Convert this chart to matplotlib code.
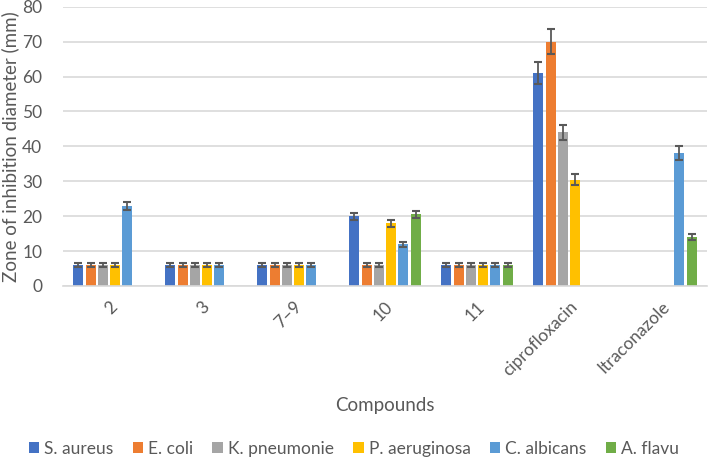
import numpy as np
import matplotlib
matplotlib.use('Agg')
import matplotlib.pyplot as plt

compounds = ['2', '3', '7–9', '10', '11', 'ciprofloxacin', 'Itraconazole']
species = ['S. aureus', 'E. coli', 'K. pneumonie', 'P. aeruginosa', 'C. albicans', 'A. flavu']
colors = ['#4472C4', '#ED7D31', '#A5A5A5', '#FFC000', '#5B9BD5', '#70AD47']
nan = np.nan

# zone of inhibition (mm), one list per species, ordered like compounds
s_aureus = [6, 6, 6, 20, 6, 61, nan]
e_coli = [6, 6, 6, 6, 6, 70, nan]
k_pneumonie = [6, 6, 6, 6, 6, 44, nan]
p_aeruginosa = [6, 6, 6, 18, 6, 30.5, nan]
c_albicans = [23, 6, 6, 12, 6, nan, 38]
a_flavu = [nan, nan, nan, 20.5, 6, nan, 14]

err_s_aureus = [0.5, 0.5, 0.5, 1.0, 0.5, 3.1, nan]
err_e_coli = [0.5, 0.5, 0.5, 0.5, 0.5, 3.5, nan]
err_k_pneumonie = [0.5, 0.5, 0.5, 0.5, 0.5, 2.2, nan]
err_p_aeruginosa = [0.5, 0.5, 0.5, 1.0, 0.5, 1.6, nan]
err_c_albicans = [1.2, 0.5, 0.5, 0.7, 0.5, nan, 2.0]
err_a_flavu = [nan, nan, nan, 1.1, 0.5, nan, 0.8]

values = [s_aureus, e_coli, k_pneumonie, p_aeruginosa, c_albicans, a_flavu]
errors = [err_s_aureus, err_e_coli, err_k_pneumonie, err_p_aeruginosa,
          err_c_albicans, err_a_flavu]

plt.rcParams['font.family'] = ['Lato', 'DejaVu Sans']
GREY = '#595959'

fig = plt.figure(figsize=(7.08, 4.71), dpi=100)
ax = fig.add_axes([63 / 708, (471 - 286) / 471, 644 / 708, 279.3 / 471])

x = np.arange(len(compounds))
pitch, width = 0.1333, 0.108
for i, (vals, errs) in enumerate(zip(values, errors)):
    pos = x + (i - 2.5) * pitch
    ax.bar(pos, vals, width, color=colors[i], label=species[i], zorder=2)
    ax.errorbar(pos, vals, yerr=errs, fmt='none', ecolor=GREY, elinewidth=1.3,
                capsize=3, capthick=1.5, zorder=3)

ax.set_xlim(-0.5, len(compounds) - 0.5)
ax.set_ylim(0, 80)
ax.set_yticks(range(0, 81, 10))
ax.yaxis.grid(True, color='#D9D9D9', lw=1.2, zorder=0)
for s in ['top', 'right', 'left']:
    ax.spines[s].set_visible(False)
ax.spines['bottom'].set_color('#D9D9D9')
ax.spines['bottom'].set_linewidth(1.2)
ax.tick_params(length=0, colors=GREY, labelsize=12.5)
ax.tick_params(axis='y', pad=15)
ax.set_xticks(x)
ax.set_xticklabels(compounds, rotation=45, ha='right', rotation_mode='anchor')
ax.tick_params(axis='x', pad=9)

ax.set_ylabel('Zone of inhibition diameter (mm)', fontsize=13.5, color=GREY, labelpad=2)
fig.text(385 / 708, 1 - 406 / 471, 'Compounds', ha='center', va='center',
         fontsize=13.5, color=GREY)

fig.legend(loc='center', bbox_to_anchor=(354 / 708, 1 - 449 / 471), ncol=6,
           frameon=False, fontsize=12.5, handlelength=0.6, handleheight=0.6,
           handletextpad=0.3, columnspacing=1.1, labelcolor=GREY)

fig.savefig('out.png', dpi=100)
